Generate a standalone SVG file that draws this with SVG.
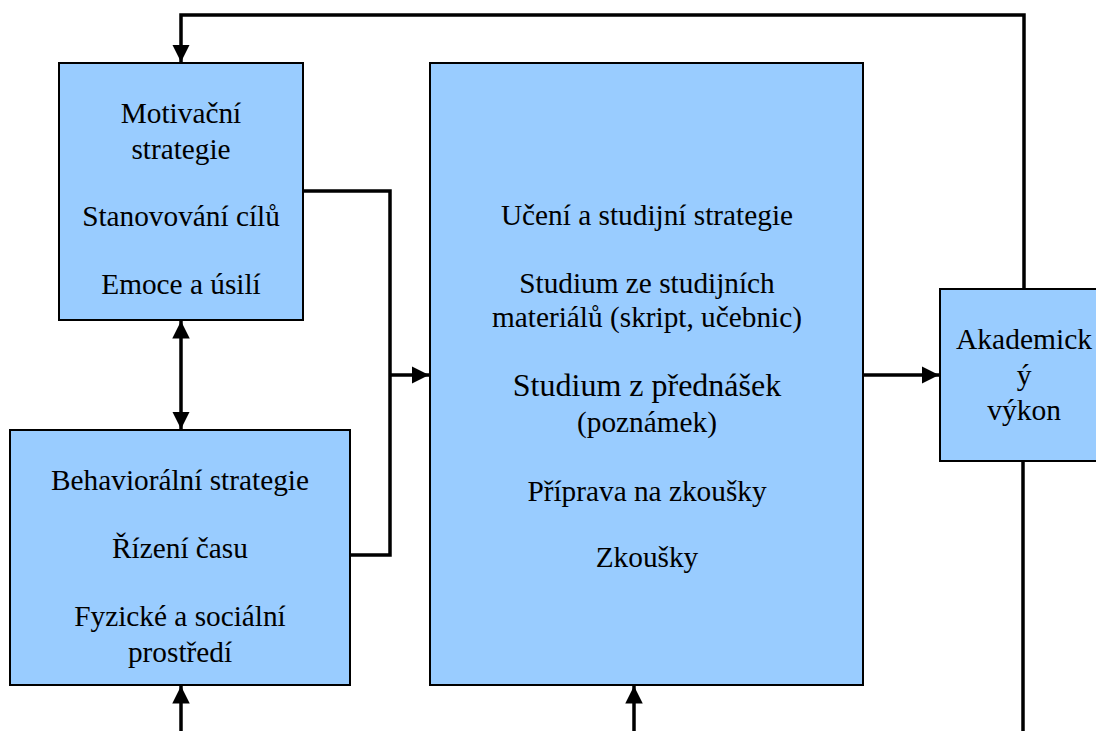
<svg xmlns="http://www.w3.org/2000/svg" width="1096" height="731" viewBox="0 0 1096 731">
  <style>
    .box { fill: #99ccff; stroke: #000; stroke-width: 2; }
    text { font-family: "Times New Roman", "Liberation Serif", Tinos, "DejaVu Serif", serif; font-size: 29.3px; fill: #000; text-anchor: middle; }
    .big { font-size: 32px; }
    .res { font-size: 29.5px; }
    .wire { fill: none; stroke: #000; stroke-width: 3.5; }
  </style>
  <defs>
    <marker id="head" viewBox="0 0 10 10" refX="10" refY="5" markerWidth="5" markerHeight="5" markerUnits="strokeWidth" orient="auto-start-reverse">
      <path d="M0,0 L10,5 L0,10 z" fill="#000"/>
    </marker>
  </defs>
  <rect width="1096" height="731" fill="#fff"/>

  <g id="connectors">
    <!-- feedback loop from performance back to motivation -->
    <polyline class="wire" points="1024,289 1024,15 181,15 181,62" marker-end="url(#head)"/>
    <!-- motivation <-> behaviour -->
    <line class="wire" x1="181" y1="321" x2="181" y2="429" marker-start="url(#head)" marker-end="url(#head)"/>
    <!-- bracket joining both strategy boxes -->
    <polyline class="wire" points="303,191 390,191 390,555 350,555"/>
    <line class="wire" x1="390" y1="375" x2="429" y2="375" marker-end="url(#head)"/>
    <!-- learning -> performance -->
    <line class="wire" x1="863" y1="375" x2="939" y2="375" marker-end="url(#head)"/>
    <!-- performance line going down -->
    <line class="wire" x1="1023" y1="461" x2="1023" y2="731"/>
    <!-- inputs from below -->
    <line class="wire" x1="181" y1="731" x2="181" y2="686" marker-end="url(#head)"/>
    <line class="wire" x1="634" y1="731" x2="634" y2="686" marker-end="url(#head)"/>
  </g>

  <g id="motivacni">
    <rect class="box" x="59" y="63" width="244" height="257"/>
    <text x="181" y="123">Motivační</text>
    <text x="181" y="159">strategie</text>
    <text x="181" y="226">Stanovování cílů</text>
    <text x="181" y="294">Emoce a úsilí</text>
  </g>

  <g id="behavioralni">
    <rect class="box" x="10" y="430" width="340" height="255"/>
    <text x="180" y="490">Behaviorální strategie</text>
    <text x="180" y="558">Řízení času</text>
    <text x="180" y="626">Fyzické a sociální</text>
    <text x="180" y="662">prostředí</text>
  </g>

  <g id="uceni">
    <rect class="box" x="430" y="63" width="433" height="622"/>
    <text x="647" y="225">Učení a studijní strategie</text>
    <text x="647" y="293">Studium ze studijních</text>
    <text x="647" y="327">materiálů (skript, učebnic)</text>
    <text class="big" x="647" y="396">Studium z přednášek</text>
    <text x="647" y="432">(poznámek)</text>
    <text x="647" y="501">Příprava na zkoušky</text>
    <text x="647" y="567">Zkoušky</text>
  </g>

  <g id="vykon">
    <rect class="box" x="940" y="289" width="170" height="172"/>
    <text class="res" x="1024" y="349">Akademick</text>
    <text class="res" x="1024" y="385">ý</text>
    <text class="res" x="1024" y="420">výkon</text>
  </g>
</svg>
